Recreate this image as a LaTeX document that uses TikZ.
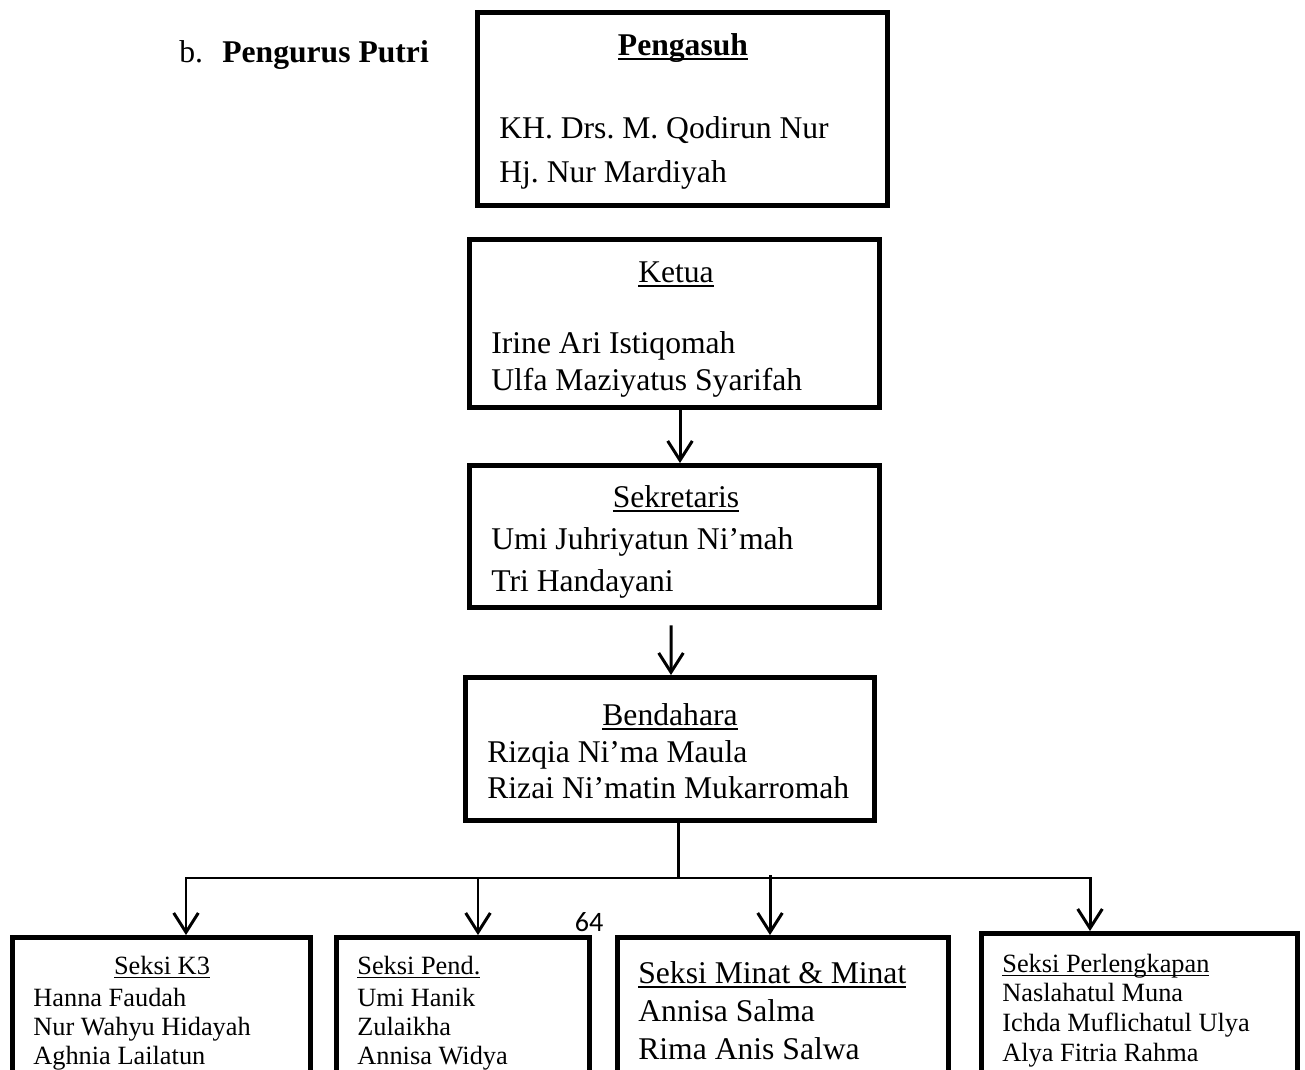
\documentclass[tikz,border=0pt]{standalone}
\usepackage{fontspec}
\setmainfont{Liberation Serif}
\newfontfamily\pagenumfont{Carlito}
\usetikzlibrary{arrows.meta}
\newsavebox{\ulnbox}
\newcommand{\uln}[1]{\sbox{\ulnbox}{#1}\rlap{\rule[-2.4pt]{\wd\ulnbox}{0.9pt}}\usebox{\ulnbox}}
\frenchspacing

\begin{document}
\begin{tikzpicture}[x=0.02cm, y=-0.02cm,
    orgbox/.style={draw, line width=2.8pt, inner sep=0pt},
    link/.style={line width=1.7pt},
    downarrow/.style={link, -{Straight Barb[length=11pt, width=14pt]}},
    bigname/.style={font=\fontsize{18}{22}\selectfont, anchor=west, inner sep=0pt,
                    text height=12.5pt, text depth=3.6pt, yshift=-0.06cm},
    bigtitle/.style={bigname, anchor=center},
    smallname/.style={font=\fontsize{15}{18}\selectfont, anchor=west, inner sep=0pt,
                      text height=10.4pt, text depth=3pt, yshift=-0.05cm},
    smalltitle/.style={smallname, anchor=center},
]

\useasboundingbox (0,0) rectangle (1305,1070);
\fill[white] (0,0) rectangle (1305,1070);
\clip (0,0) rectangle (1305,1070);

% ===================== HEADING =====================
\node[bigname] (item) at (179,52) {b.};
\node[bigname, font=\fontsize{18}{22}\selectfont\bfseries] (heading) at (222,52) {Pengurus Putri};

% ===================== TOP CHAIN =====================
\node[orgbox, minimum width=8.2cm, minimum height=3.86cm] (peng) at (682.5,109) {};
\node[bigtitle, font=\fontsize{18}{22}\selectfont\bfseries] (pengT) at (683,45) {\uln{Pengasuh}};
\node[bigname] (peng1) at (499,128) {KH. Drs. M. Qodirun Nur};
\node[bigname] (peng2) at (499,172) {Hj. Nur Mardiyah};

\node[orgbox, minimum width=8.2cm, minimum height=3.36cm] (ketua) at (674.5,323.5) {};
\node[bigtitle] (ketuaT) at (676,272) {\uln{Ketua}};
\node[bigname] (ketua1) at (491,343) {Irine Ari Istiqomah};
\node[bigname] (ketua2) at (491,380) {Ulfa Maziyatus Syarifah};

\node[orgbox, minimum width=8.2cm, minimum height=2.84cm] (sekr) at (674.5,536.5) {};
\node[bigtitle] (sekrT) at (676,497) {\uln{Sekretaris}};
\node[bigname] (sekr1) at (491,539) {Umi Juhriyatun Ni’mah};
\node[bigname] (sekr2) at (491,581) {Tri Handayani};

\node[orgbox, minimum width=8.18cm, minimum height=2.86cm] (bend) at (670,749) {};
\node[bigtitle] (bendT) at (670,715) {\uln{Bendahara}};
\node[bigname] (bend1) at (487,752) {Rizqia Ni’ma Maula};
\node[bigname] (bend2) at (487,788) {Rizai Ni’matin Mukarromah};

% ===================== SECTIONS =====================
\node[orgbox, minimum width=5.96cm, minimum height=5cm] (k3) at (161.5,1062.5) {};
\node[smalltitle] (k3T) at (162,965) {\uln{Seksi K3}};
\node[smallname] (k31) at (33,997) {Hanna Faudah};
\node[smallname] (k32) at (33,1026) {Nur Wahyu Hidayah};
\node[smallname] (k33) at (33,1055) {Aghnia Lailatun};

\node[orgbox, minimum width=5.06cm, minimum height=5cm] (pend) at (463,1062.5) {};
\node[smallname] (pendT) at (357,965) {\uln{Seksi Pend.}};
\node[smallname] (pend1) at (357,997) {Umi Hanik};
\node[smallname] (pend2) at (357,1026) {Zulaikha};
\node[smallname] (pend3) at (357,1055) {Annisa Widya};

\node[orgbox, minimum width=6.62cm, minimum height=5cm] (minat) at (783,1062.5) {};
\node[bigname] (minatT) at (638,973) {\uln{Seksi Minat \& Minat}};
\node[bigname] (minat1) at (638,1011) {Annisa Salma};
\node[bigname] (minat2) at (638,1049) {Rima Anis Salwa};

\node[orgbox, minimum width=6.32cm, minimum height=5cm] (lengkap) at (1139.5,1058.5) {};
\node[smallname] (lengkapT) at (1002,963) {\uln{Seksi Perlengkapan}};
\node[smallname] (lengkap1) at (1002,992) {Naslahatul Muna};
\node[smallname] (lengkap2) at (1002,1022) {Ichda Muflichatul Ulya};
\node[smallname] (lengkap3) at (1002,1052) {Alya Fitria Rahma};

% page number
\node[font=\pagenumfont\fontsize{16}{18}\selectfont, inner sep=0pt] (pagenum) at (589,922) {64};

% ===================== CONNECTORS =====================
\draw[downarrow] ([xshift=0.11cm]ketua.south) -- ([xshift=0.11cm]sekr.north);
\draw[downarrow] ([xshift=-0.07cm, yshift=-0.31cm]sekr.south) -- ([xshift=0.02cm]bend.north);

\coordinate (busL) at (186,878);
\coordinate (busR) at (1090,878);
\draw[link] ([xshift=0.16cm]bend.south) -- ([xshift=0.16cm]bend.south |- busL);
\draw[link, line cap=rect] (busL) -- (busR);

\foreach \b/\x/\y in {k3/186/878, pend/478/878, minat/770/875, lengkap/1090/878} {
    \coordinate (drop\b) at (\x,\y);
    \draw[downarrow] (drop\b) -- (drop\b |- \b.north);
}

\end{tikzpicture}
\end{document}
